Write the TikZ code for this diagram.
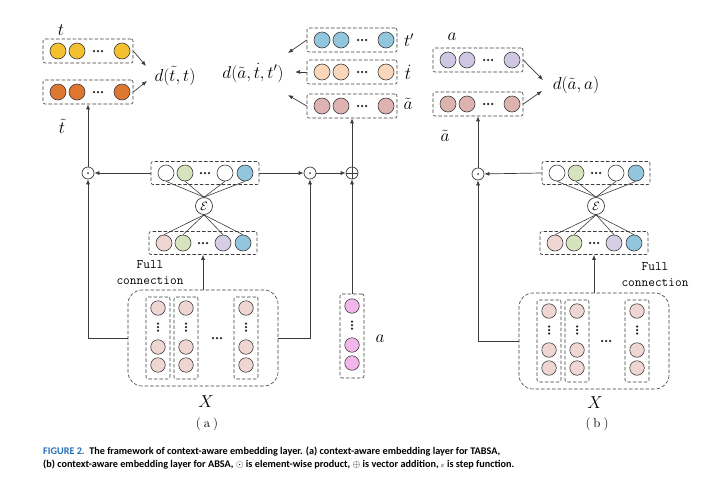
\documentclass[tikz,border=0pt]{standalone}
\usepackage{fontspec}
\usepackage{amsmath}
\usetikzlibrary{arrows.meta}
\newfontfamily\capfont{Carlito}
\definecolor{cyel}{RGB}{243,192,48}
\definecolor{corg}{RGB}{222,120,48}
\definecolor{cgrn}{RGB}{214,228,190}
\definecolor{cblu}{RGB}{146,198,220}
\definecolor{cpnk}{RGB}{240,214,210}
\definecolor{clav}{RGB}{214,206,228}
\definecolor{cpch}{RGB}{250,214,186}
\definecolor{crose}{RGB}{222,178,176}
\definecolor{cmag}{RGB}{243,182,234}
\definecolor{clav2}{RGB}{206,198,226}
\definecolor{capblue}{RGB}{40,110,180}
\definecolor{lnc}{RGB}{60,60,60}
\tikzset{
  cell/.style={circle, draw=lnc, line width=0.6pt, minimum size=16pt, inner sep=0pt},
  vcell/.style={circle, draw=lnc, line width=0.6pt, minimum size=14.5pt, inner sep=0pt},
  dbox/.style={draw=lnc, line width=0.6pt, dash pattern=on 3.5pt off 2pt, rounded corners=2pt, inner sep=0pt},
  op/.style={circle, draw=lnc, line width=0.7pt, minimum size=12pt, inner sep=0pt},
  arr/.style={-{Latex[length=5pt,width=4pt]}, line width=0.7pt, draw=lnc},
  ln/.style={line width=0.6pt, draw=lnc},
  lab/.style={inner sep=0pt, font=\fontsize{18.5}{20}\selectfont},
  ttlab/.style={inner sep=0pt, align=center, font=\ttfamily\fontsize{13}{16}\selectfont},
  sublab/.style={inner sep=0pt, font=\fontsize{13}{15}\selectfont},
  capt/.style={anchor=west, inner sep=0pt, font=\capfont\bfseries\fontsize{10.2}{12}\selectfont},
}
\newcommand{\hdotsmark}[1]{\fill[black!85] ([xshift=-4pt]#1) circle (1.25pt) (#1) circle (1.25pt) ([xshift=4pt]#1) circle (1.25pt);}
\newcommand{\vdotsmark}[1]{\fill[black!85] ([yshift=-3.5pt]#1) circle (1.25pt) (#1) circle (1.25pt) ([yshift=3.5pt]#1) circle (1.25pt);}
% row of four circles: name, centre, colour
\newcommand{\rowfour}[3]{%
  \node[dbox, minimum width=90pt, minimum height=24pt] (#1) at (#2) {};
  \node[cell, fill=#3] (#1-1) at ([xshift=-30pt]#1.center) {};
  \node[cell, fill=#3] (#1-2) at ([xshift=-11pt]#1.center) {};
  \coordinate (#1-d) at ([xshift=10pt]#1.center);
  \hdotsmark{#1-d}
  \node[cell, fill=#3] (#1-3) at ([xshift=34pt]#1.center) {};
}
% row of five positions: name, centre, four colours
\newcommand{\rowfive}[6]{%
  \node[dbox, minimum width=108pt, minimum height=23pt] (#1) at (#2) {};
  \node[cell, fill=#3] (#1-1) at ([xshift=-39pt]#1.center) {};
  \node[cell, fill=#4] (#1-2) at ([xshift=-20pt]#1.center) {};
  \coordinate (#1-d) at ([xshift=0pt]#1.center);
  \hdotsmark{#1-d}
  \node[cell, fill=#5] (#1-3) at ([xshift=20pt]#1.center) {};
  \node[cell, fill=#6] (#1-4) at ([xshift=40pt]#1.center) {};
}
% column: name, centre, colour, height
\newcommand{\colthree}[4]{%
  \node[dbox, minimum width=24pt, minimum height=#4] (#1) at (#2) {};
  \node[vcell, fill=#3] (#1-1) at ([yshift=30pt]#1.center) {};
  \coordinate (#1-d) at ([yshift=11pt]#1.center);
  \vdotsmark{#1-d}
  \node[vcell, fill=#3] (#1-2) at ([yshift=-9pt]#1.center) {};
  \node[vcell, fill=#3] (#1-3) at ([yshift=-27pt]#1.center) {};
}
\begin{document}
\begin{tikzpicture}[x=1pt,y=-1pt]
\useasboundingbox[fill=white] (0,0) rectangle (711,488);

% ================= panel (a) =================
\rowfour{T}{88,51}{cyel}
\rowfour{Tt}{88,92}{corg}
\node[lab] (lt) at (61,30) {$t$};
\node[lab] (ltt) at (62,126) {$\tilde t$};
\node[lab] (dtt) at (175,76) {$d(\tilde t,t)$};
\coordinate (dtt-a) at (146,66);
\coordinate (dtt-b) at (147,81);
\draw[arr] (T.east) -- (dtt-a);
\draw[arr] (Tt.east) -- (dtt-b);

\rowfour{Tp}{352,40}{cblu}
\rowfour{Td}{352,72}{cpch}
\rowfour{At}{352,106}{crose}
\node[lab] (ltp) at (409,40) {$t'$};
\node[lab] (ltd) at (408,72) {$\dot t$};
\node[lab] (lat) at (408,104) {$\tilde a$};
\node[lab] (datt) at (253,73) {$d(\tilde a,\dot t,t')$};
\coordinate (datt-a) at (288,53);
\coordinate (datt-b) at (295,72);
\coordinate (datt-c) at (288,95);
\draw[arr] (Tp.west) -- (datt-a);
\draw[arr] (Td.west) -- (datt-b);
\draw[arr] (At.west) -- (datt-c);

\node[op] (opL) at (88,173) {};
\fill[lnc] (opL.center) circle (1pt);
\node[op] (opR) at (310,173) {};
\fill[lnc] (opR.center) circle (1pt);
\node[op] (plus) at (352,173) {};
\draw[ln] (plus.north) -- (plus.south) (plus.west) -- (plus.east);

\rowfive{EO}{205,173}{white}{cgrn}{white}{cblu}
\node[op, minimum size=17pt, font=\fontsize{13}{13}\selectfont] (eps) at (204,206) {$\mathcal{E}$};
\rowfive{EI}{203,243}{cpnk}{cgrn}{clav}{cblu}
\foreach \k in {1,2,3,4} {
  \draw[ln] (eps.north) -- (EO-\k.south);
  \draw[ln] (eps.south) -- (EI-\k.north);
}

\node[dbox, rounded corners=14pt, minimum width=150pt, minimum height=96pt] (X) at (203,338) {};
\colthree{C1}{158,338}{cpnk}{82pt}
\colthree{C2}{186,338}{cpnk}{82pt}
\colthree{C3}{246,338}{cpnk}{82pt}
\coordinate (Xd) at (217,338);
\hdotsmark{Xd}
\node[lab] (lX) at (206,402) {$X$};
\node[sublab] (la) at (207,424) {(\hspace{3pt}a\hspace{3pt})};
\node[ttlab] (fcA) at (150,273) {Full\\connection};

\colthree{AC}{352,336}{cmag}{84pt}
\node[lab] (lacol) at (380,339) {$a$};

\draw[arr] (X.north) -- (EI.south);
\draw[arr] (EO.west) -- (opL);
\draw[arr] (EO.east) -- (opR);
\draw[arr] (opR) -- (plus);
\draw[arr] (X.west) -| (opL);
\draw[arr] (X.east) -| (opR);
\draw[arr] (AC.north) -- (plus);
\draw[arr] (opL) -- (Tt.south);
\draw[arr] (plus) -- (At.south);

% ================= panel (b) =================
\rowfour{A}{478,60}{clav2}
\rowfour{Ab}{478,104}{crose}
\node[lab] (lab-a) at (452,37) {$a$};
\node[lab] (lab-at) at (445,136) {$\tilde a$};
\node[lab] (daa) at (576,85) {$d(\tilde a,a)$};
\coordinate (daa-a) at (543,80);
\coordinate (daa-b) at (542,91);
\draw[arr] (A.east) -- (daa-a);
\draw[arr] (Ab.east) -- (daa-b);

\node[op] (opB) at (478,174) {};
\fill[lnc] (opB.center) circle (1pt);

\rowfive{EOb}{596,173}{white}{cgrn}{white}{cblu}
\node[op, minimum size=17pt, font=\fontsize{13}{13}\selectfont] (epsb) at (596,206) {$\mathcal{E}$};
\rowfive{EIb}{594,243}{cpnk}{cgrn}{clav}{cblu}
\foreach \k in {1,2,3,4} {
  \draw[ln] (epsb.north) -- (EOb-\k.south);
  \draw[ln] (epsb.south) -- (EIb-\k.north);
}

\node[dbox, rounded corners=14pt, minimum width=150pt, minimum height=96pt] (Xb) at (594,341) {};
\colthree{D1}{549,341}{cpnk}{82pt}
\colthree{D2}{577,341}{cpnk}{82pt}
\colthree{D3}{637,341}{cpnk}{82pt}
\coordinate (Xbd) at (606,341);
\hdotsmark{Xbd}
\node[lab] (lXb) at (595,403) {$X$};
\node[sublab] (lb) at (597,424) {(\hspace{3pt}b\hspace{3pt})};
\node[ttlab] (fcB) at (655,275) {Full\\connection};

\draw[arr] (Xb.north) -- (EIb.south);
\draw[arr] (EOb.west) -- (opB);
\draw[arr] (Xb.west) -| (opB);
\draw[arr] (opB) -- (Ab.south);

% ================= caption =================
\node[capt] (cap1) at (43,452)
  {\textcolor{capblue}{FIGURE 2.}\ \ The framework of context-aware embedding layer. (a) context-aware embedding layer for TABSA,};
\node[capt] (cap2) at (43,465)
  {(b) context-aware embedding layer for ABSA, $\odot$ is element-wise product, $\oplus$ is vector addition, $\scriptstyle\varepsilon$ is step function.};
\end{tikzpicture}
\end{document}
